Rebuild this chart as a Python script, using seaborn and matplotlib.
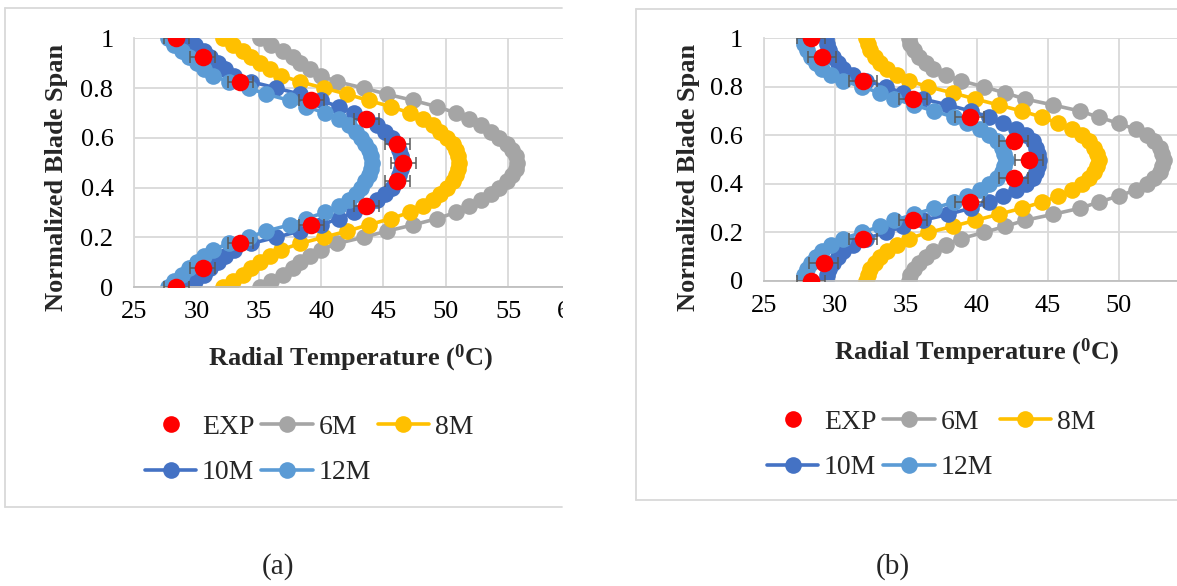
import matplotlib
matplotlib.use("Agg")
import matplotlib.pyplot as plt
from matplotlib.patches import Rectangle
from matplotlib.lines import Line2D
import seaborn as sns

# normalized blade span stations of the CFD profiles
SPAN = [0.000, 0.025, 0.050, 0.075, 0.100, 0.125, 0.150, 0.175, 0.200, 0.225,
        0.250, 0.275, 0.300, 0.325, 0.350, 0.375, 0.400, 0.425, 0.450, 0.475,
        0.500, 0.525, 0.550, 0.575, 0.600, 0.625, 0.650, 0.675, 0.700, 0.725,
        0.750, 0.775, 0.800, 0.825, 0.850, 0.875, 0.900, 0.925, 0.950, 0.975,
        1.000]

# case (a): radial temperature (deg C) for each mesh
T6_A = [35.1, 36.0, 36.9, 37.7, 38.3, 39.1, 40.0, 41.3, 43.4, 45.3, 47.4, 49.3,
        50.8, 51.9, 52.8, 53.6, 54.3, 54.9, 55.3, 55.6, 55.7, 55.6, 55.3, 54.9,
        54.3, 53.6, 52.8, 51.9, 50.8, 49.3, 47.4, 45.3, 43.4, 41.3, 40.0, 39.1,
        38.3, 37.7, 36.9, 36.0, 35.1]
T8_A = [32.1, 32.9, 33.7, 34.4, 35.1, 35.9, 36.8, 38.3, 40.2, 42.1, 43.8, 45.6,
        47.1, 48.2, 48.95, 49.55, 50.1, 50.6, 50.85, 51.0, 51.05, 51.0, 50.85,
        50.6, 50.1, 49.55, 48.95, 48.2, 47.1, 45.6, 43.8, 42.1, 40.2, 38.3, 36.8,
        35.9, 35.1, 34.4, 33.7, 32.9, 32.1]
T10_A = [29.25, 29.9, 30.6, 31.1, 31.7, 32.3, 33.0, 34.4, 36.4, 38.3, 40.0, 41.4,
         42.6, 43.65, 44.5, 45.15, 45.65, 46.05, 46.25, 46.4, 46.45, 46.4, 46.25,
         46.05, 45.65, 45.15, 44.5, 43.65, 42.6, 41.4, 40.0, 38.3, 36.4, 34.4,
         33.0, 32.3, 31.7, 31.1, 30.6, 29.9, 29.25]
T12_A = [27.7, 28.2, 28.8, 29.4, 30.0, 30.6, 31.3, 32.6, 34.2, 35.6, 37.5, 38.8,
         40.3, 41.45, 42.2, 42.8, 43.2, 43.5, 43.8, 44.0, 44.1, 44.0, 43.8, 43.5,
         43.2, 42.8, 42.2, 41.45, 40.3, 38.8, 37.5, 35.6, 34.2, 32.6, 31.3, 30.6,
         30.0, 29.4, 28.8, 28.2, 27.7]

# case (b)
T6_B = [35.2, 35.3, 35.6, 35.9, 36.4, 36.9, 37.8, 38.9, 40.5, 42.0, 43.4, 45.4,
        47.3, 48.6, 50.0, 51.2, 52.0, 52.5, 52.9, 53.1, 53.2, 53.1, 52.9, 52.5,
        52.0, 51.2, 50.0, 48.6, 47.3, 45.4, 43.4, 42.0, 40.5, 38.9, 37.8, 36.9,
        36.4, 35.9, 35.6, 35.3, 35.2]
T8_B = [32.2, 32.3, 32.5, 32.8, 33.2, 33.7, 34.4, 35.2, 36.6, 38.3, 39.9, 41.55,
        43.2, 44.6, 45.75, 46.7, 47.4, 47.9, 48.25, 48.5, 48.6, 48.5, 48.25, 47.9,
        47.4, 46.7, 45.75, 44.6, 43.2, 41.55, 39.9, 38.3, 36.6, 35.2, 34.4, 33.7,
        33.2, 32.8, 32.5, 32.3, 32.2]
T10_B = [29.4, 29.45, 29.6, 29.85, 30.2, 30.6, 31.3, 32.2, 33.6, 34.8, 36.2, 38.0,
         39.6, 40.9, 41.85, 42.8, 43.5, 44.0, 44.2, 44.35, 44.4, 44.35, 44.2, 44.0,
         43.5, 42.8, 41.85, 40.9, 39.6, 38.0, 36.2, 34.8, 33.6, 32.2, 31.3, 30.6,
         30.2, 29.85, 29.6, 29.45, 29.4]
T12_B = [27.8, 27.85, 28.0, 28.3, 28.7, 29.1, 29.7, 30.6, 31.9, 33.2, 34.2, 35.6,
         37.0, 38.4, 39.3, 40.2, 40.9, 41.4, 41.75, 41.95, 42.05, 41.95, 41.75,
         41.4, 40.9, 40.2, 39.3, 38.4, 37.0, 35.6, 34.2, 33.2, 31.9, 30.6, 29.7,
         29.1, 28.7, 28.3, 28.0, 27.85, 27.8]

# experimental measurements with +/- 1 deg C uncertainty
EXP_SPAN = [0.0, 0.075, 0.175, 0.25, 0.325, 0.425, 0.5, 0.575, 0.675, 0.75,
            0.825, 0.925, 1.0]
EXP_A = [28.35, 30.5, 33.5, 39.2, 43.6, 46.1, 46.6, 46.1, 43.6, 39.2, 33.5,
         30.5, 28.35]
EXP_B = [28.3, 29.2, 32.0, 35.5, 39.5, 42.6, 43.7, 42.6, 39.5, 35.5, 32.0,
         29.1, 28.3]
EXP_ERR = 1.0

MODELS = ["6M", "8M", "10M", "12M"]
COLORS = {"EXP": "#FF0000", "6M": "#A5A5A5", "8M": "#FFC000",
          "10M": "#4472C4", "12M": "#5B9BD5"}
X_TICKS = [25, 30, 35, 40, 45, 50, 55, 60]
Y_TICKS = [0, 0.2, 0.4, 0.6, 0.8, 1]
Y_TICK_LABELS = ["0", "0.2", "0.4", "0.6", "0.8", "1"]

sns.set_theme(style="white")
plt.rcParams["font.family"] = ["Liberation Serif", "DejaVu Serif"]
plt.rcParams["mathtext.fontset"] = "custom"
plt.rcParams["mathtext.rm"] = "Liberation Serif"
plt.rcParams["mathtext.bf"] = "Liberation Serif:bold"

W, H = 1177, 586
fig = plt.figure(figsize=(W / 100, H / 100), dpi=100)
fig.patch.set_facecolor("white")

GRID = "#D9D9D9"
TICK_FS = 19
LEG_FS = 20
TITLE_FS = 19
LW = 2.6
MS = 12


def fx(px):
    return px / W


def fy(py):
    return 1 - py / H


def draw_panel(ax, temps, exp_t):
    for name, t in zip(MODELS, temps):
        sns.lineplot(x=t, y=SPAN, sort=False, estimator=None, ax=ax,
                     color=COLORS[name], lw=LW, marker="o", markersize=MS,
                     markeredgewidth=0, legend=False, zorder=2)
    ax.errorbar(exp_t, EXP_SPAN, xerr=EXP_ERR, fmt="none", ecolor="#595959",
                elinewidth=1.1, capsize=4, capthick=1.1, zorder=3)
    sns.scatterplot(x=exp_t, y=EXP_SPAN, ax=ax, color=COLORS["EXP"], s=160,
                    linewidth=0, zorder=4, legend=False)
    ax.set_xlim(25, 60)
    ax.set_ylim(0, 1)
    ax.set_xticks(X_TICKS)
    ax.set_xticklabels([str(v) for v in X_TICKS])
    ax.set_yticks(Y_TICKS)
    ax.set_yticklabels(Y_TICK_LABELS)
    ax.grid(True, color=GRID, lw=1.3)
    ax.set_axisbelow(True)
    for side in ("top", "right"):
        ax.spines[side].set_visible(False)
    ax.spines["left"].set_color(GRID)
    ax.spines["left"].set_linewidth(1.3)
    ax.spines["bottom"].set_color("#BFBFBF")
    ax.spines["bottom"].set_linewidth(1.3)
    ax.tick_params(axis="both", length=0, labelsize=TICK_FS, colors="black")
    ax.tick_params(axis="y", pad=15)
    ax.tick_params(axis="x", pad=10)
    ax.set_xlabel("")
    ax.set_ylabel("")


def add_legend(ax, cx, cy):
    def model_handle(name):
        return Line2D([], [], color=COLORS[name], lw=LW, marker="o",
                      markersize=MS, markeredgewidth=0)
    exp_h = Line2D([], [], color=COLORS["EXP"], lw=0, marker="o",
                   markersize=12, markeredgewidth=0)
    handles = [exp_h, model_handle("10M"), model_handle("6M"),
               model_handle("12M"), model_handle("8M")]
    labels = ["EXP", "10M", "6M", "12M", "8M"]
    ax.legend(handles, labels, loc="center", bbox_to_anchor=(fx(cx), fy(cy)),
              bbox_transform=fig.transFigure, ncol=3, frameon=False,
              fontsize=LEG_FS, handlelength=1.85, handletextpad=0.2,
              columnspacing=0.25, labelspacing=0.72, borderpad=0, numpoints=1)


def frame_line(x0, y0, x1, y1):
    fig.add_artist(Line2D([fx(x0), fx(x1)], [fy(y0), fy(y1)],
                          transform=fig.transFigure, color=GRID, lw=1.3))


# panel frames (panel (a) is trimmed on its right side)
frame_line(5, 8, 562, 8)
frame_line(5, 507, 562, 507)
frame_line(5, 8, 5, 507)
frame_line(636, 8.5, 1180, 8.5)
frame_line(636, 500, 1180, 500)
frame_line(636, 8.5, 636, 500)

# panel (a)
ax_a = fig.add_axes([fx(134.3), fy(287), fx(35 * 12.46), (287 - 38.3) / H])
draw_panel(ax_a, [T6_A, T8_A, T10_A, T12_A], EXP_A)
add_legend(ax_a, 309, 450)

# panel (b)
ax_b = fig.add_axes([fx(764), fy(281), fx(35 * 14.18), (281 - 38.3) / H])
draw_panel(ax_b, [T6_B, T8_B, T10_B, T12_B], EXP_B)
add_legend(ax_b, 931, 445)

fig.add_artist(Rectangle((fx(562.7), 0), fx(634 - 562.7), 1,
                         transform=fig.transFigure, facecolor="white",
                         edgecolor="none", zorder=10))

xlabel = r"Radial Temperature ($\mathbf{^{0}}$C)"
ylabel = "Normalized Blade Span"
fig.text(fx(350), fy(358), xlabel, ha="center", va="center",
         fontsize=TITLE_FS, fontweight="bold")
fig.text(fx(976), fy(352), xlabel, ha="center", va="center",
         fontsize=TITLE_FS, fontweight="bold")
fig.text(fx(57), fy(177), ylabel, ha="center", va="center", rotation=90,
         fontsize=TITLE_FS, fontweight="bold")
fig.text(fx(688), fy(177), ylabel, ha="center", va="center", rotation=90,
         fontsize=TITLE_FS, fontweight="bold")

fig.text(fx(278), fy(567), "(a)", ha="center", va="center", fontsize=21)
fig.text(fx(893), fy(567), "(b)", ha="center", va="center", fontsize=21)

fig.savefig("out.png", dpi=100, facecolor="white")
